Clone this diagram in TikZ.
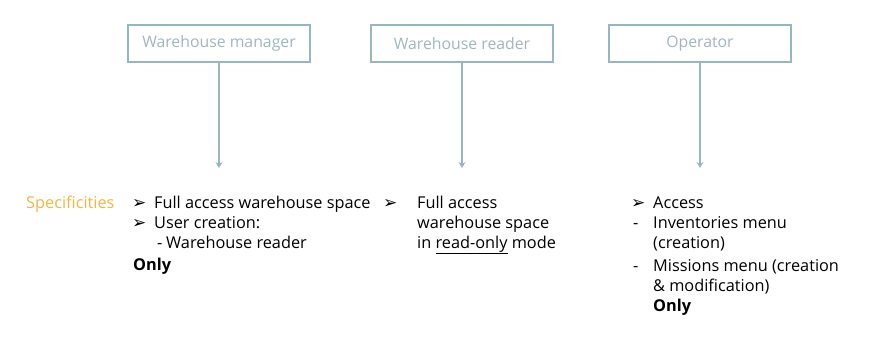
\documentclass[tikz,border=0pt]{standalone}
\usepackage{fontspec}
\setmainfont{Open Sans}
\newfontfamily\symfont{DejaVu Sans}
\usetikzlibrary{arrows.meta}
\definecolor{boxc}{RGB}{150,182,194}
\definecolor{boxt}{RGB}{160,182,192}
\definecolor{orangec}{RGB}{242,183,64}
\tikzset{
  rolebox/.style={draw=boxc, line width=2pt, minimum width=182pt, minimum height=37pt, inner sep=0pt, outer sep=0pt, text=boxt, font=\fontsize{15.8}{18}\selectfont},
  conn/.style={draw=boxc, line width=1.2pt, -{Stealth[length=6pt,width=7pt]}},
  txt/.style={anchor=base west, inner sep=0pt, font=\fontsize{16.3}{18}\selectfont},
}
\newcommand{\abul}{{\symfont\fontsize{17}{18}\selectfont ➢}}
\begin{document}
\begin{tikzpicture}[x=1pt,y=-1pt]
\useasboundingbox (0,0) rectangle (889,349);
\node[rolebox] (wm) at (219,43.5) {Warehouse manager};
\node[rolebox] (wr) at (462,43.5) {Warehouse reader};
\node[rolebox] (op) at (700,43.5) {Operator};
\coordinate (wmE) at (219,168);
\coordinate (wrE) at (462,168);
\coordinate (opE) at (700,168);
\draw[conn] (wm) -- (wmE);
\draw[conn] (wr) -- (wrE);
\draw[conn] (op) -- (opE);
\node[txt, text=orangec] (spec) at (26,208) {Specificities};
% column 1
\node[txt] (c1b1) at (132,208) {\abul};
\node[txt] (c1t1) at (154,208) {Full access warehouse space};
\node[txt] (c1b2) at (132,228) {\abul};
\node[txt] (c1t2) at (154,228) {User creation:};
\node[txt] (c1d) at (157,248) {-};
\node[txt] (c1t3) at (166,248) {Warehouse reader};
\node[txt] (c1o) at (133,270) {\bfseries Only};
% column 2
\node[txt] (c2b1) at (383,208) {\abul};
\node[txt] (c2t1) at (417,208) {Full access};
\node[txt] (c2t2) at (417,228) {warehouse space};
\node[txt] (c2t3) at (417,248) {in \underline{read-only} mode};
% column 3
\node[txt] (c3b1) at (631,208) {\abul};
\node[txt] (c3t1) at (653,208) {Access};
\node[txt] (c3d1) at (633,228) {-};
\node[txt] (c3t2) at (653,228) {Inventories menu};
\node[txt] (c3t3) at (653,248) {(creation)};
\node[txt] (c3d2) at (633,271) {-};
\node[txt] (c3t4) at (653,271) {Missions menu (creation};
\node[txt] (c3t5) at (653,291) {\& modification)};
\node[txt] (c3o) at (653,311) {\bfseries Only};
\end{tikzpicture}
\end{document}
